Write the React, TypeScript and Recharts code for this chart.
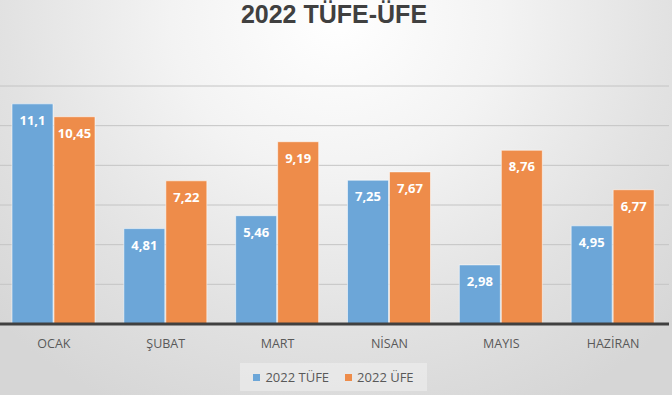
import React from 'react';
import { BarChart, Bar, XAxis, YAxis, CartesianGrid, Legend, LabelList } from 'recharts';

const months = ['OCAK', 'ŞUBAT', 'MART', 'NİSAN', 'MAYIS', 'HAZİRAN'];
const tufe = [11.1, 4.81, 5.46, 7.25, 2.98, 4.95];
const ufe = [10.45, 7.22, 9.19, 7.67, 8.76, 6.77];
const yTicks = [0, 2, 4, 6, 8, 10, 12];
const seriesNames = ['2022 TÜFE', '2022 ÜFE'];
const colors = ['#6CA6D8', '#EE8C4A'];

const data = months.map((m, i) => ({ month: m, tufe: tufe[i], ufe: ufe[i] }));

const fmt = (v: any) => String(v).replace('.', ',');

const LegendBox = () => (
  <div
    style={{
      width: 187,
      height: 28,
      background: 'rgba(240,240,240,0.55)',
      display: 'flex',
      alignItems: 'center',
      justifyContent: 'center',
      fontFamily: 'Open Sans',
      fontSize: 13,
      color: '#595959',
      gap: 16,
    }}
  >
    {seriesNames.map((n, i) => (
      <div key={n} style={{ display: 'flex', alignItems: 'center' }}>
        <span style={{ display: 'inline-block', width: 7, height: 7, background: colors[i], marginRight: 5 }} />
        <span>{n}</span>
      </div>
    ))}
  </div>
);

export default function App() {
  return (
    <div
      style={{
        position: 'absolute',
        left: 0,
        top: 0,
        width: 672,
        height: 395,
        overflow: 'hidden',
        background:
          'radial-gradient(ellipse 70% 110% at 50% 5%, #ffffff 0%, #f3f3f3 35%, #e2e2e2 70%, #d6d6d6 100%)',
      }}
    >
      <div
        style={{
          position: 'absolute',
          left: 0,
          top: 0,
          width: 668,
          textAlign: 'center',
          fontFamily: '"Liberation Sans", Arial, sans-serif',
          fontWeight: 700,
          fontSize: 25,
          lineHeight: '29px',
          color: '#404040',
        }}
      >
        2022 TÜFE-ÜFE
      </div>
      <BarChart
        width={672}
        height={395}
        data={data}
        margin={{ top: 86, right: 3, bottom: 13, left: -2 }}
        barGap={1}
        barSize={41}
      >
        <CartesianGrid vertical={false} stroke="#C4C4C4" strokeWidth={1} />
        <YAxis hide domain={[0, 12]} ticks={yTicks} />
        <XAxis
          dataKey="month"
          height={30}
          tickLine={false}
          axisLine={{ stroke: '#404040', strokeWidth: 3 }}
          tickMargin={9}
          tick={{ fill: '#595959', fontSize: 12.5, fontFamily: 'Open Sans' }}
          interval={0}
        />
        <Legend
          content={<LegendBox />}
          wrapperStyle={{ position: 'absolute', left: 240, top: 363, width: 187, height: 28, bottom: 'auto' }}
        />
        <Bar dataKey="tufe" name={seriesNames[0]} fill={colors[0]} stroke="rgba(255,255,255,0.55)" strokeWidth={1} isAnimationActive={false}>
          <LabelList
            dataKey="tufe"
            position="insideTop"
            offset={12}
            formatter={fmt}
            style={{ fill: '#ffffff', fontSize: 13, fontWeight: 700, fontFamily: 'Open Sans' }}
          />
        </Bar>
        <Bar dataKey="ufe" name={seriesNames[1]} fill={colors[1]} stroke="rgba(255,255,255,0.55)" strokeWidth={1} isAnimationActive={false}>
          <LabelList
            dataKey="ufe"
            position="insideTop"
            offset={12}
            formatter={fmt}
            style={{ fill: '#ffffff', fontSize: 13, fontWeight: 700, fontFamily: 'Open Sans' }}
          />
        </Bar>
      </BarChart>
    </div>
  );
}
